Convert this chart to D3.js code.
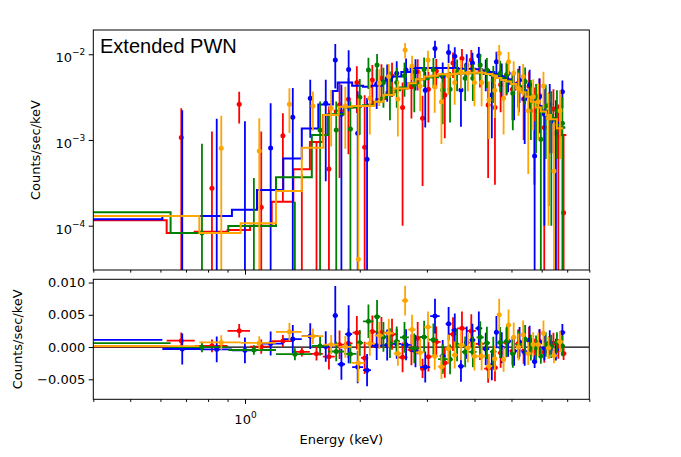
<!DOCTYPE html>
<html>
<head>
<meta charset="utf-8">
<title>Extended PWN</title>
<style>

body {
    margin: 0;
    background: #fff;
}

text {
    font-family: "DejaVu Sans", sans-serif;
    font-size: 13px;
    fill: #000;
}

.tick line {
    stroke: #000;
    stroke-width: 1;
}

.frame {
    fill: none;
    stroke: #000;
    stroke-width: 1;
}

</style>
</head>
<body>
<div id="chart"></div>
<script src="https://cdn.jsdelivr.net/npm/d3@7"></script>
<script>
    // bin edges (keV), count rates, 1-sigma errors and folded model, per data group
    var redEdges = [0.1, 0.623, 0.738, 0.90, 1.031, 1.175, 1.339, 1.48, 1.60, 1.72, 1.82, 1.915, 2.015, 2.105, 2.21, 2.35, 2.51, 2.67, 2.795, 2.88, 2.965, 3.09, 3.26, 3.425, 3.60, 3.815, 4.03, 4.24, 4.445, 4.605, 4.76, 4.94, 5.115, 5.29, 5.47, 5.65, 5.835, 6.015, 6.175, 6.35, 6.535, 6.735, 6.965];
    var redRate = [2.2e-4, 1.07e-3, 2.73e-4, 2.61e-3, 1.64e-4, 1.12e-3, -3e-4, -1e-4,
        4.6e-4, 2.56e-3, 2.98e-3, 4.67e-3, 8.2e-4, 5.0e-3, 5.25e-3, 5.58e-3, 2.4e-3, 4.18e-3, 6.27e-3, 1.79e-3, 3.9e-3, 6.4e-3, 3.35e-3, 7.9e-3, 8.9e-3, 8.6e-3, 6.6e-3, 2.56e-3, 2.4e-3, 4.4e-3, 5.6e-3, 3.9e-3, 4.6e-3, 3.0e-3, 4.2e-3, 2.2e-3, 3.3e-3, 1.4e-3, 1.87e-3, 2.3e-3, 1.1e-3, 1.42e-4];
    var redErr = [1.0e-3, 1.27e-3, 9.8e-4, 1.05e-3, 1.09e-3, 9.3e-4, 7e-4, 1.05e-3,
        2.0e-3, 2.2e-3, 2.3e-3, 2.6e-3, 2.5e-3, 2.5e-3, 2.4e-3, 2.4e-3, 2.3e-3, 2.4e-3, 2.5e-3, 1.5e-3, 2.3e-3, 2.4e-3, 2.3e-3, 2.6e-3, 2.6e-3, 2.6e-3, 2.5e-3, 2.2e-3, 2.1e-3, 2.3e-3, 2.3e-3, 2.2e-3, 2.2e-3, 2.0e-3, 2.1e-3, 1.9e-3, 1.9e-3, 1.7e-3, 1.7e-3, 1.6e-3, 1.5e-3, 1.0e-3];
    var redModel = [1.16e-4, 8.2e-5, 8.5e-5, 8.9e-5, 1.0e-4, 1.9e-4, 4.55e-4, 9.5e-4,
        1.96e-3, 2.2e-3, 2.4e-3, 2.45e-3, 2.5e-3, 2.6e-3, 3.0e-3, 3.6e-3, 4.0e-3, 4.6e-3, 4.9e-3, 5.1e-3, 5.4e-3, 5.6e-3, 5.8e-3, 5.9e-3, 6.0e-3, 6.1e-3, 6.1e-3, 5.9e-3, 5.6e-3, 5.3e-3, 4.9e-3, 4.5e-3, 4.1e-3, 3.6e-3, 3.2e-3, 2.8e-3, 2.4e-3, 2.15e-3, 1.95e-3, 1.7e-3, 1.4e-3, 1.14e-3];

    var blueEdges = [0.1, 0.607, 0.762, 0.924, 1.075, 1.26, 1.409, 1.557, 1.70, 1.75, 1.83, 1.91, 2.04, 2.14, 2.29, 2.43, 2.57, 2.72, 2.88, 3.06, 3.24, 3.36, 3.48, 3.62, 3.75, 3.88, 4.02, 4.19, 4.37, 4.51, 4.62, 4.81, 4.99, 5.17, 5.33, 5.50, 5.66, 5.84, 6.00, 6.20, 6.40, 6.68, 6.92];
    var blueRate = [1.22e-3, -1.7e-4, -2.3e-4, -3.5e-4, 8.06e-4, 1.84e-3, 3.06e-3,
        2.68e-3, 8.6e-3, 2.0e-3, 6.66e-3, 1.2e-3, 5.95e-4, 4.5e-3, 5.2e-3, 6.0e-3, 6.54e-3, 6.27e-3, 3.8e-3, 1.17e-2, 5.5e-3, 1.05e-2, 9.5e-3, 3.83e-3, 7.5e-3, 7.9e-3, 9.6e-3, 6.2e-3, 3.35e-3, 8.2e-3, 5.4e-3, 6.0e-3, 4.0e-3, 5.0e-3, 3.0e-3, 4.4e-3, 6.5e-4, 3.2e-3, 2.0e-3, 2.6e-3, 1.2e-3, 3.66e-3];
    var blueErr = [1.5e-3, 2.4e-3, 2.0e-3, 2.0e-3, 1.87e-3, 2.2e-3, 2.0e-3,
        2.35e-3, 4.6e-3, 2.4e-3, 4.5e-3, 2.5e-3, 2.5e-3, 2.2e-3, 2.4e-3, 2.3e-3, 2.4e-3, 2.5e-3, 2.4e-3, 2.7e-3, 2.5e-3, 2.6e-3, 2.6e-3, 2.4e-3, 2.5e-3, 2.5e-3, 2.6e-3, 2.5e-3, 2.3e-3, 2.5e-3, 2.4e-3, 2.4e-3, 2.3e-3, 2.3e-3, 2.1e-3, 2.2e-3, 1.0e-3, 2.0e-3, 1.9e-3, 1.9e-3, 1.7e-3, 1.3e-3];
    var blueModel = [1.19e-4, 1.3e-4, 1.3e-4, 1.53e-4, 2.61e-4, 6.1e-4, 1.36e-3,
        2.6e-3, 3.73e-3, 4.67e-3, 4.67e-3, 4.3e-3, 4.18e-3, 4.3e-3, 4.9e-3, 5.5e-3, 6.2e-3, 6.9e-3, 6.9e-3, 6.9e-3, 6.9e-3, 6.9e-3, 6.9e-3, 6.8e-3, 6.8e-3, 6.8e-3, 6.7e-3, 6.5e-3, 6.2e-3, 5.9e-3, 5.5e-3, 5.1e-3, 4.6e-3, 4.2e-3, 3.8e-3, 3.3e-3, 2.9e-3, 2.5e-3, 2.2e-3, 1.9e-3, 1.6e-3, 1.4e-3];

    var greenEdges = [0.1, 0.638, 0.904, 1.206, 1.497, 1.65, 1.82, 1.96, 2.04, 2.175, 2.265, 2.35, 2.45, 2.55, 2.69, 2.87, 3.03, 3.21, 3.39, 3.51, 3.69, 3.87, 4.05, 4.23, 4.39, 4.57, 4.77, 4.95, 5.13, 5.33, 5.53, 5.71, 5.89, 6.05, 6.25, 6.47, 6.69, 6.91];
    var greenRate = [7.4e-4, 8.2e-5, -3.6e-4, -7.4e-4, 1.31e-3,
        1.31e-3, 1.34e-3, 3.15e-3, 6.54e-3, 7.5e-3, 4.67e-3, 4.0e-3, 4.67e-3, 5.6e-3, 4.4e-3, 6.66e-3, 6.54e-3, 3.83e-3, 3.9e-3, 6.2e-3, 5.25e-3, 5.25e-3, 7.5e-3, 6.54e-3, 5.0e-3, 6.0e-3, 5.8e-3, 3.5e-3, 4.3e-3, 4.8e-3, 3.0e-3, 2.6e-3, 1.02e-3, 2.5e-3, 1.9e-3, 2.2e-3, 1.57e-3];
    var greenErr = [1.0e-3, 8.2e-4, 7.2e-4, 9.3e-4, 1.5e-3,
        1.5e-3, 1.5e-3, 2.0e-3, 2.6e-3, 2.6e-3, 2.3e-3, 2.3e-3, 2.3e-3, 2.4e-3, 2.3e-3, 2.5e-3, 2.5e-3, 2.3e-3, 2.3e-3, 2.5e-3, 2.4e-3, 2.4e-3, 2.5e-3, 2.5e-3, 2.3e-3, 2.4e-3, 2.4e-3, 2.2e-3, 2.2e-3, 2.2e-3, 2.0e-3, 1.9e-3, 1.2e-3, 1.9e-3, 1.8e-3, 1.6e-3, 1.6e-3];
    var greenModel = [1.43e-4, 8.2e-5, 9.9e-5, 3.67e-4, 1.14e-3,
        2.0e-3, 2.4e-3, 2.5e-3, 2.55e-3, 2.8e-3, 3.1e-3, 3.4e-3, 3.8e-3, 4.1e-3, 4.6e-3, 5.1e-3, 5.4e-3, 5.7e-3, 5.8e-3, 5.9e-3, 6.0e-3, 6.0e-3, 6.0e-3, 5.9e-3, 5.7e-3, 5.3e-3, 4.9e-3, 4.5e-3, 4.0e-3, 3.6e-3, 3.1e-3, 2.7e-3, 2.4e-3, 2.1e-3, 1.8e-3, 1.5e-3, 1.4e-3];

    var orangeEdges = [0.03, 0.759, 0.974, 1.206, 1.409, 1.605, 1.76, 1.905, 2.06, 2.19, 2.31, 2.455, 2.58, 2.68, 2.805, 2.955, 3.085, 3.205, 3.345, 3.485, 3.61, 3.765, 3.92, 4.075, 4.275, 4.455, 4.585, 4.70, 4.835, 4.99, 5.145, 5.285, 5.445, 5.62, 5.785, 5.97, 6.16, 6.35, 6.575, 6.83];
    var orangeRate = [2.8e-4, 8.0e-4, 7.44e-4, 2.61e-3, 2.49e-3,
        2.34e-3, 2.49e-3, 4.07e-5, 3.06e-3, 4.59e-3, 5.49e-3, 3.0e-3, 1.12e-2, 7.3e-3, 4.27e-3, 8.6e-3, 4.18e-3, 2.8e-3, 5.6e-3, 4.67e-3, 6.27e-3, 6.0e-3, 4.67e-3, 4.67e-3, 2.93e-3, 3.8e-3, 1.03e-2, 3.06e-3, 8.2e-3, 6.0e-3, 4.0e-3, 5.5e-3, 2.2e-3, 3.2e-3, 2.8e-3, 4.27e-3, 1.8e-3, 4.35e-4, 2.2e-3];
    var orangeErr = [1.0e-3, 1.12e-3, 1.05e-3, 1.4e-3, 1.2e-3,
        1.5e-3, 1.7e-3, 3.0e-3, 1.9e-3, 2.1e-3, 2.2e-3, 1.9e-3, 2.3e-3, 2.3e-3, 2.1e-3, 2.4e-3, 2.1e-3, 1.9e-3, 2.2e-3, 2.1e-3, 2.3e-3, 2.3e-3, 2.2e-3, 2.2e-3, 1.9e-3, 2.0e-3, 2.5e-3, 1.9e-3, 2.4e-3, 2.3e-3, 2.1e-3, 2.2e-3, 1.8e-3, 1.9e-3, 1.8e-3, 2.0e-3, 1.7e-3, 1.2e-3, 1.6e-3];
    var orangeModel = [1.3e-4, 8.2e-5, 1.07e-4, 2.54e-4, 8.1e-4,
        1.96e-3, 2.45e-3, 2.5e-3, 2.5e-3, 2.8e-3, 3.35e-3, 4.0e-3, 4.0e-3, 4.6e-3, 5.1e-3, 5.5e-3, 5.6e-3, 5.85e-3, 5.85e-3, 5.9e-3, 6.0e-3, 6.1e-3, 6.1e-3, 6.1e-3, 5.9e-3, 5.6e-3, 5.3e-3, 5.0e-3, 4.8e-3, 4.5e-3, 4.0e-3, 3.6e-3, 3.2e-3, 2.8e-3, 2.4e-3, 2.15e-3, 1.95e-3, 1.75e-3, 1.37e-3];

    var xMajorTicks = [1];
    var xMinorTicks = [0.4, 0.5, 0.6, 0.7, 0.8, 0.9, 2, 3, 4, 5, 6, 7, 8];
    var upperTicks = [1e-4, 1e-3, 1e-2];
    var lowerTicks = [-0.005, 0, 0.005, 0.010];

    var dimensions = { width: 681, height: 457 };
    var xRange = [93.3, 589.3];
    var upperRange = [270, 30];
    var lowerRange = [399.3, 279.3];

    function make_bins(edges, rate, err, model) {
        return rate.map(function(v, i) {
            return {
                lo: edges[i], hi: edges[i + 1], mid: 0.5 * (edges[i] + edges[i + 1]),
                v: v, e: err[i], m: model[i], r: v - model[i]
            };
        });
    }

    var groups = [
        { color: "red", bins: make_bins(redEdges, redRate, redErr, redModel) },
        { color: "blue", bins: make_bins(blueEdges, blueRate, blueErr, blueModel) },
        { color: "green", bins: make_bins(greenEdges, greenRate, greenErr, greenModel) },
        { color: "orange", bins: make_bins(orangeEdges, orangeRate, orangeErr, orangeModel) }
    ];

    var xscale = d3.scaleLog().domain([0.4, 8]).range(xRange);
    var yupper = d3.scaleLog().domain([3.04e-5, 0.0192]).range(upperRange);
    var ylower = d3.scaleLinear().domain([-0.0081, 0.0105]).range(lowerRange);

    var svg = d3.select("#chart")
        .append("svg")
        .attr("width", dimensions.width)
        .attr("height", dimensions.height);

    var defs = svg.append("defs");
    defs.append("clipPath").attr("id", "clip-upper")
        .append("rect")
        .attr("x", xRange[0]).attr("y", upperRange[1])
        .attr("width", xRange[1] - xRange[0]).attr("height", upperRange[0] - upperRange[1]);
    defs.append("clipPath").attr("id", "clip-lower")
        .append("rect")
        .attr("x", xRange[0]).attr("y", lowerRange[1])
        .attr("width", xRange[1] - xRange[0]).attr("height", lowerRange[0] - lowerRange[1]);

    // upper panel: spectra with folded model
    var gup = svg.append("g").attr("clip-path", "url(#clip-upper)");
    groups.forEach(function(grp) {
        var g = gup.append("g");
        g.selectAll("line")
            .data(grp.bins)
            .enter().append("line")
            .attr("x1", function(d) { return xscale(d.mid); })
            .attr("x2", function(d) { return xscale(d.mid); })
            .attr("y1", function(d) { return yupper(Math.max(d.v - d.e, 1e-7)); })
            .attr("y2", function(d) { return yupper(d.v + d.e); })
            .attr("stroke", grp.color)
            .attr("stroke-width", 1.8);
        g.selectAll("circle")
            .data(grp.bins.filter(function(d) { return d.v > 0; }))
            .enter().append("circle")
            .attr("cx", function(d) { return xscale(d.mid); })
            .attr("cy", function(d) { return yupper(d.v); })
            .attr("r", 2.5)
            .attr("fill", grp.color);
        var last = grp.bins[grp.bins.length - 1];
        var pts = grp.bins.map(function(d) { return [d.lo, d.m]; }).concat([[last.hi, last.m]]);
        g.append("path")
            .attr("d", d3.line()
                .x(function(p) { return xscale(p[0]); })
                .y(function(p) { return yupper(p[1]); })
                .curve(d3.curveStepAfter)(pts))
            .attr("fill", "none")
            .attr("stroke", grp.color)
            .attr("stroke-width", 2);
    });

    // lower panel: residuals
    var glo = svg.append("g").attr("clip-path", "url(#clip-lower)");
    glo.append("line")
        .attr("x1", xRange[0]).attr("x2", xRange[1])
        .attr("y1", ylower(0)).attr("y2", ylower(0))
        .attr("stroke", "#000")
        .attr("stroke-width", 1.3);
    groups.forEach(function(grp) {
        var g = glo.append("g");
        g.selectAll("line.xe")
            .data(grp.bins)
            .enter().append("line")
            .attr("class", "xe")
            .attr("x1", function(d) { return xscale(d.lo); })
            .attr("x2", function(d) { return xscale(d.hi); })
            .attr("y1", function(d) { return ylower(d.r); })
            .attr("y2", function(d) { return ylower(d.r); })
            .attr("stroke", grp.color)
            .attr("stroke-width", 1.8);
        g.selectAll("line.ye")
            .data(grp.bins)
            .enter().append("line")
            .attr("class", "ye")
            .attr("x1", function(d) { return xscale(d.mid); })
            .attr("x2", function(d) { return xscale(d.mid); })
            .attr("y1", function(d) { return ylower(d.r - d.e); })
            .attr("y2", function(d) { return ylower(d.r + d.e); })
            .attr("stroke", grp.color)
            .attr("stroke-width", 1.8);
        g.selectAll("circle")
            .data(grp.bins)
            .enter().append("circle")
            .attr("cx", function(d) { return xscale(d.mid); })
            .attr("cy", function(d) { return ylower(d.r); })
            .attr("r", 2.5)
            .attr("fill", grp.color);
    });

    // axes
    function add_minor(y, size) {
        svg.append("g")
            .attr("transform", "translate(0," + y + ")")
            .call(d3.axisBottom(xscale).tickValues(xMinorTicks).tickSize(size).tickFormat(""))
            .select(".domain").remove();
    }
    svg.append("g")
        .attr("transform", "translate(0," + upperRange[0] + ")")
        .call(d3.axisBottom(xscale).tickValues(xMajorTicks).tickSize(4.6).tickFormat(""))
        .select(".domain").remove();
    add_minor(upperRange[0], 2.6);
    add_minor(lowerRange[0], 2.6);

    var xax = svg.append("g")
        .attr("transform", "translate(0," + lowerRange[0] + ")")
        .call(d3.axisBottom(xscale).tickValues(xMajorTicks).tickSize(4.6).tickPadding(3.5).tickFormat(function() { return ""; }));
    xax.select(".domain").remove();
    xax.selectAll(".tick text")
        .attr("dy", 16.9)
        .each(function(d) {
            var t = d3.select(this);
            t.append("tspan").text("10");
            t.append("tspan").attr("dy", -6.7).style("font-size", "9px")
                .text(String(Math.round(Math.log10(d))).replace("-", "\u2212"));
        });

    var yax = svg.append("g")
        .attr("transform", "translate(" + xRange[0] + ",0)")
        .call(d3.axisLeft(yupper).tickValues(upperTicks).tickSize(4.6).tickPadding(3.5).tickFormat(function() { return ""; }));
    yax.select(".domain").remove();
    yax.selectAll(".tick text")
        .attr("dy", 7.4)
        .each(function(d) {
            var t = d3.select(this);
            t.append("tspan").text("10");
            t.append("tspan").attr("dy", -6.7).style("font-size", "9px")
                .text(String(Math.round(Math.log10(d))).replace("-", "\u2212"));
        });

    var yax2 = svg.append("g")
        .attr("transform", "translate(" + xRange[0] + ",0)")
        .call(d3.axisLeft(ylower).tickValues(lowerTicks).tickSize(4.6).tickPadding(3.5).tickFormat(d3.format(".3f")));
    yax2.select(".domain").remove();

    // frames
    svg.append("rect").attr("class", "frame")
        .attr("x", xRange[0]).attr("y", upperRange[1])
        .attr("width", xRange[1] - xRange[0]).attr("height", upperRange[0] - upperRange[1]);
    svg.append("rect").attr("class", "frame")
        .attr("x", xRange[0]).attr("y", lowerRange[1])
        .attr("width", xRange[1] - xRange[0]).attr("height", lowerRange[0] - lowerRange[1]);

    // labels
    svg.append("text")
        .attr("transform", "translate(40," + 0.5 * (upperRange[0] + upperRange[1]) + ") rotate(-90)")
        .attr("text-anchor", "middle")
        .text("Counts/sec/keV");
    svg.append("text")
        .attr("transform", "translate(22," + 0.5 * (lowerRange[0] + lowerRange[1]) + ") rotate(-90)")
        .attr("text-anchor", "middle")
        .text("Counts/sec/keV");
    svg.append("text")
        .attr("x", 0.5 * (xRange[0] + xRange[1]))
        .attr("y", 444)
        .attr("text-anchor", "middle")
        .text("Energy (keV)");
    svg.append("text")
        .attr("x", 100)
        .attr("y", 53.3)
        .style("font-family", "'Liberation Sans', Arial, sans-serif")
        .style("font-size", "20px")
        .text("Extended PWN");
</script>
</body>
</html>
